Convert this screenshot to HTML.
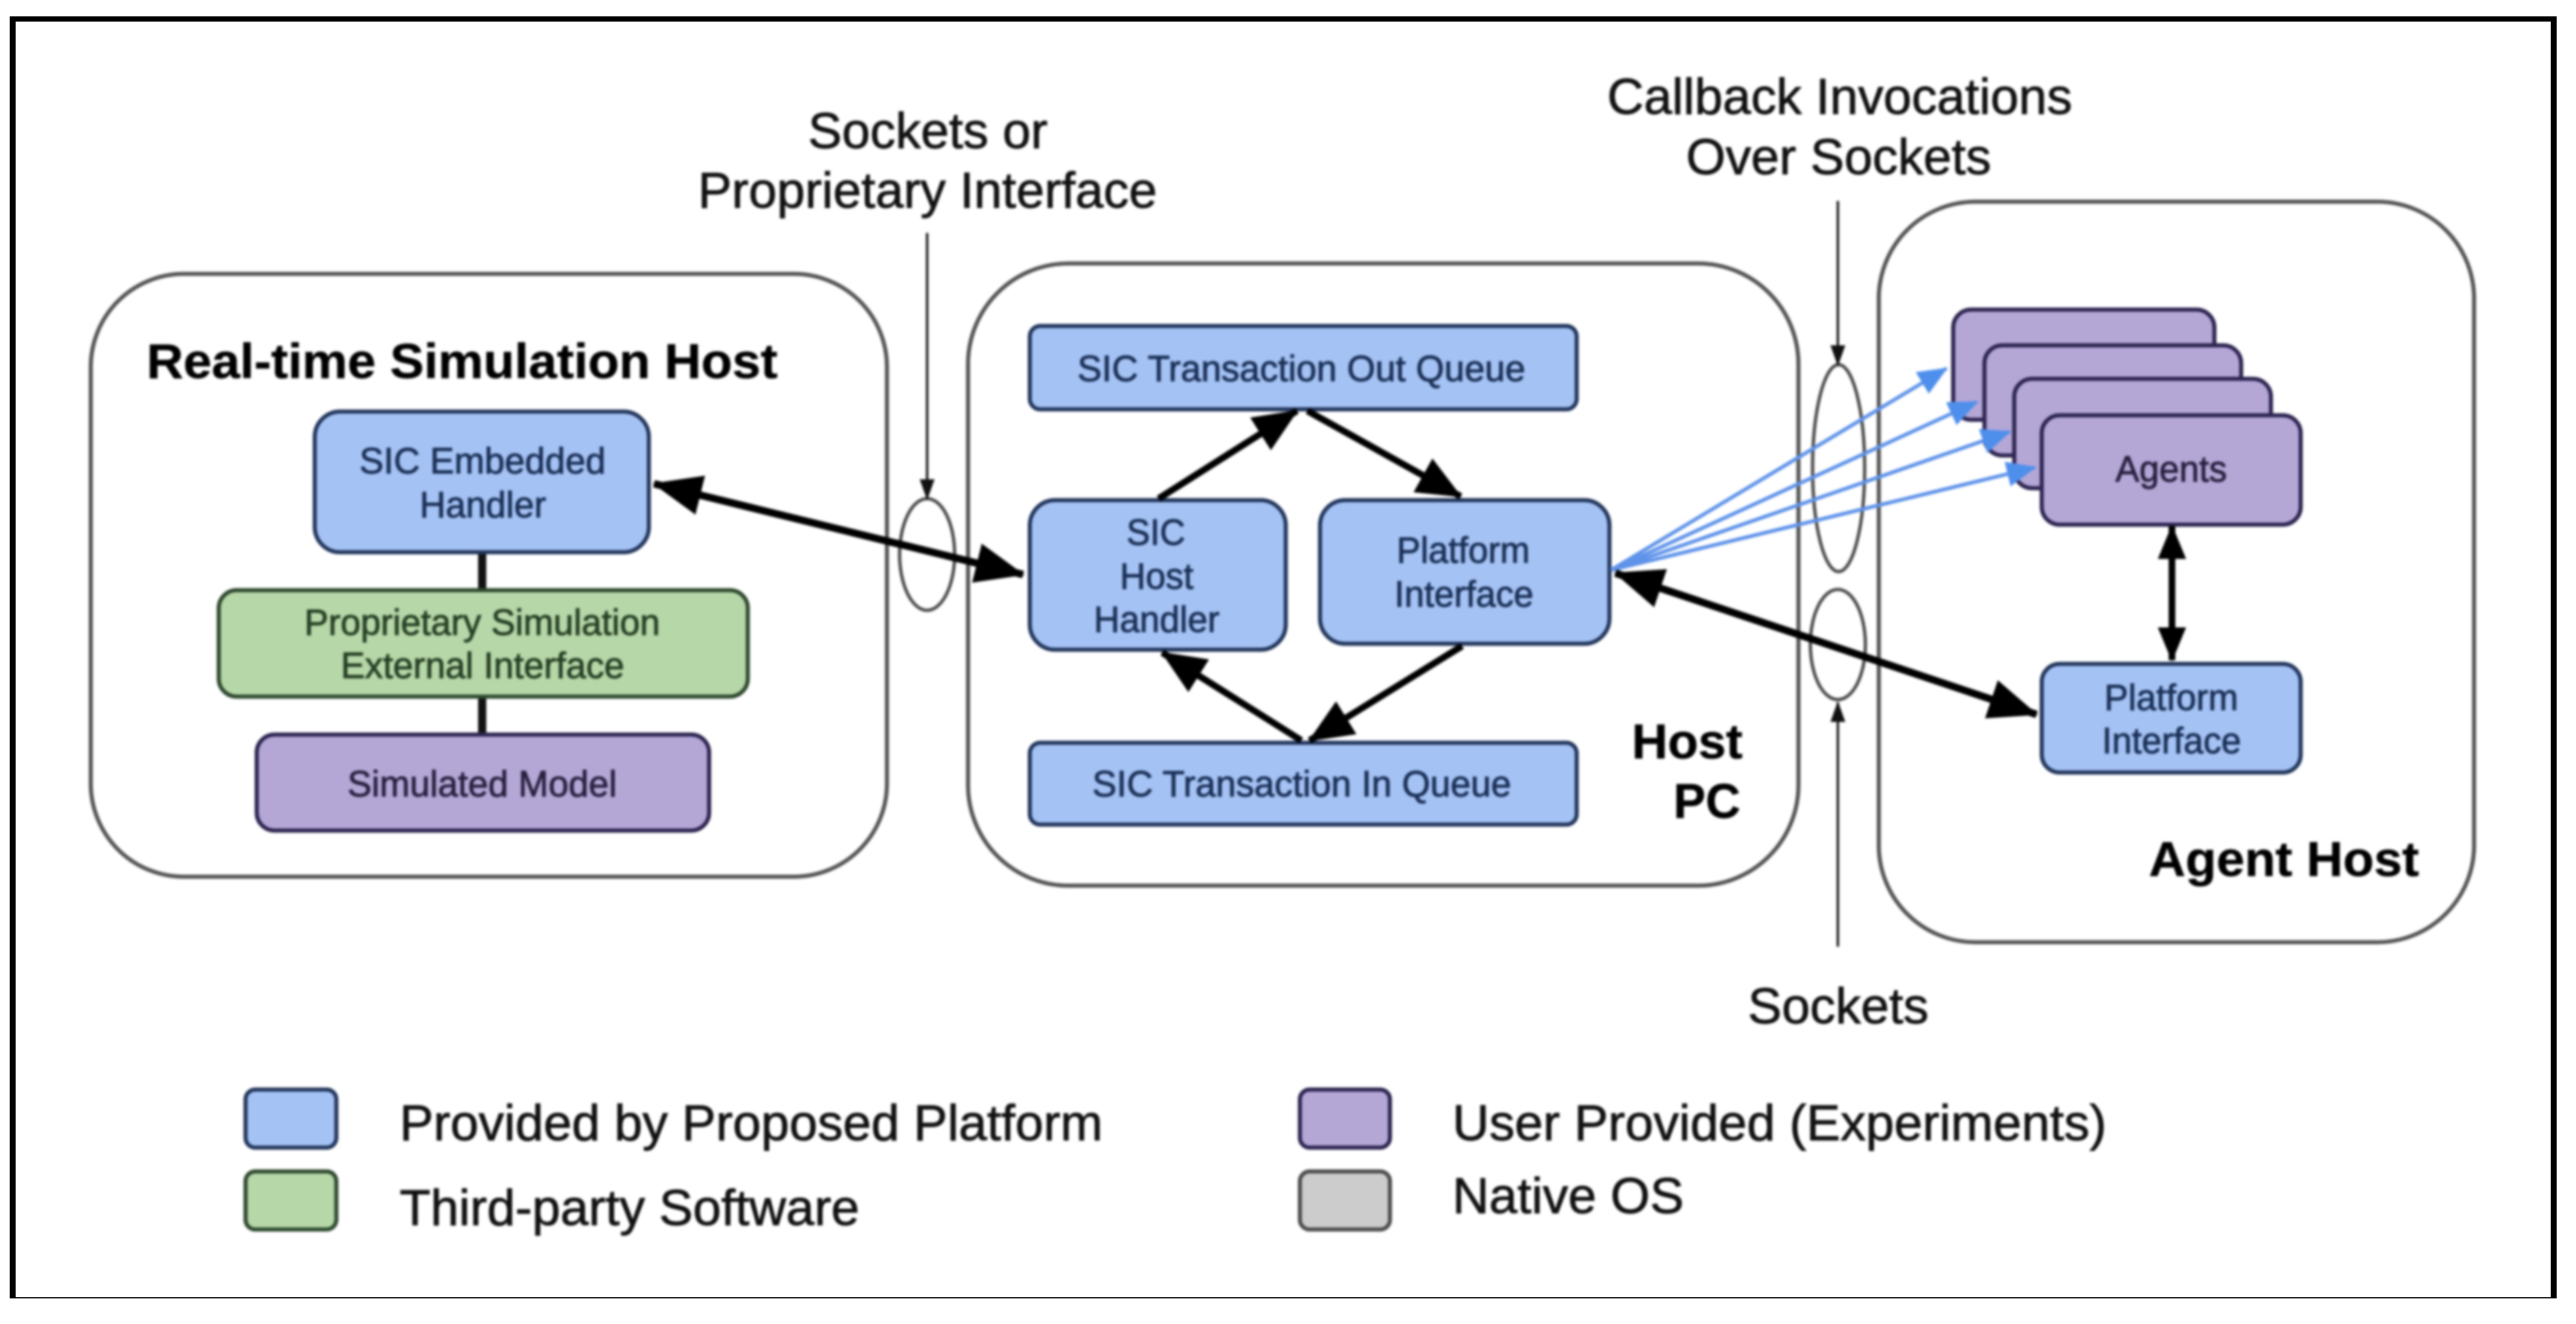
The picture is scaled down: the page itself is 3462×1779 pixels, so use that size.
<!DOCTYPE html>
<html>
<head>
<meta charset="utf-8">
<style>
html,body{margin:0;padding:0;background:#fff;width:3462px;height:1779px;overflow:hidden}
svg{display:block}
.soft{filter:blur(1.5px)}
text{font-family:"Liberation Sans",sans-serif;stroke-width:.9px}
.l{font-size:68px;fill:#111;stroke:#111}
.b{font-size:66px;font-weight:bold;fill:#000;stroke:#000;stroke-width:.5px}
.bl{font-size:49px;fill:#1a2f55;stroke:#1a2f55}
.gr{font-size:49px;fill:#263f24;stroke:#263f24}
.pu{font-size:49px;fill:#28203f;stroke:#28203f}
.hb{fill:none;stroke:#555;stroke-width:5.5}
.blue{fill:#a4c2f4;stroke:#22365c;stroke-width:5.5}
.green{fill:#b6d7a8;stroke:#2f4a2f;stroke-width:5.5}
.purple{fill:#b4a7d6;stroke:#2d2450;stroke-width:5.5}
.gray{fill:#cccccc;stroke:#4d4d4d;stroke-width:5.5}
.el{fill:none;stroke:#4d4d4d;stroke-width:4.5}
.thin{stroke:#222;stroke-width:3.5;fill:none}
.thick{stroke:#000;stroke-width:10;fill:none}
.mid{stroke:#000;stroke-width:9;fill:none}
.bar{stroke:#111;stroke-width:11;fill:none}
.az{stroke:#5f93ea;stroke-width:5;fill:none}
</style>
</head>
<body>
<svg width="3462" height="1779" viewBox="0 0 3462 1779" xmlns="http://www.w3.org/2000/svg">
<defs>
<marker id="hb" markerUnits="userSpaceOnUse" markerWidth="70" markerHeight="60" refX="64" refY="27" orient="auto-start-reverse"><path d="M0,0 L66,27 L0,54 Z" fill="#000"/></marker>
<marker id="hm" markerUnits="userSpaceOnUse" markerWidth="64" markerHeight="60" refX="58" refY="26" orient="auto-start-reverse"><path d="M0,0 L60,26 L0,52 Z" fill="#000"/></marker>
<marker id="hv" markerUnits="userSpaceOnUse" markerWidth="50" markerHeight="40" refX="44" refY="19" orient="auto-start-reverse"><path d="M0,0 L46,19 L0,38 Z" fill="#000"/></marker>
<marker id="ha" markerUnits="userSpaceOnUse" markerWidth="44" markerHeight="38" refX="38" refY="17" orient="auto"><path d="M0,0 L40,17 L0,34 Z" fill="#4f8fec"/></marker>
<marker id="ht" markerUnits="userSpaceOnUse" markerWidth="32" markerHeight="24" refX="26" refY="10" orient="auto"><path d="M0,0 L28,10 L0,20 Z" fill="#111"/></marker>
</defs>

<rect x="0" y="0" width="3462" height="1779" fill="#fff"/>
<rect x="13" y="22" width="8" height="1722" fill="#000"/>
<rect x="3428" y="22" width="8" height="1722" fill="#000"/>
<rect x="13" y="22" width="3423" height="7" fill="#000"/>
<rect x="13" y="1743" width="3423" height="1.5" fill="#000"/>

<g class="soft">
<!-- hosts -->
<rect class="hb" x="122" y="368" width="1070" height="810" rx="125" ry="125"/>
<rect class="hb" x="1301" y="354" width="1116" height="836" rx="135" ry="135"/>
<rect class="hb" x="2525" y="271" width="800" height="995" rx="130" ry="130"/>

<!-- left host -->
<path class="bar" d="M648,742 V793 M648,936 V987"/>
<rect class="blue" x="423" y="553" width="449" height="189" rx="34"/>
<rect class="green" x="294" y="793" width="711" height="143" rx="24"/>
<rect class="purple" x="345" y="987" width="608" height="129" rx="24"/>

<!-- middle host -->
<rect class="blue" x="1384" y="438" width="735" height="112" rx="14"/>
<rect class="blue" x="1384" y="672" width="344" height="201" rx="34"/>
<rect class="blue" x="1774" y="672" width="389" height="193" rx="34"/>
<rect class="blue" x="1384" y="998" width="735" height="110" rx="14"/>

<!-- right host -->
<rect class="purple" x="2625" y="416" width="351" height="148" rx="24"/>
<rect class="purple" x="2667" y="464" width="345" height="148" rx="24"/>
<rect class="purple" x="2707" y="509" width="345" height="147" rx="24"/>
<rect class="purple" x="2744" y="558" width="348" height="147" rx="24"/>
<rect class="blue" x="2744" y="892" width="348" height="146" rx="24"/>

<!-- ellipses -->
<ellipse class="el" cx="1246" cy="745" rx="37" ry="75"/>
<ellipse class="el" cx="2471" cy="629" rx="35" ry="139"/>
<ellipse class="el" cx="2470" cy="866" rx="37" ry="74"/>

<!-- thin pointers -->
<path class="thin" d="M1246,313 V670" marker-end="url(#ht)"/>
<path class="thin" d="M2470,270 V490" marker-end="url(#ht)"/>
<path class="thin" d="M2470,1272 V944" marker-end="url(#ht)"/>

<!-- blue arrows -->
<path class="az" d="M2165,766 L2616,495" marker-end="url(#ha)"/>
<path class="az" d="M2165,766 L2657,540" marker-end="url(#ha)"/>
<path class="az" d="M2165,766 L2701,580" marker-end="url(#ha)"/>
<path class="az" d="M2165,766 L2735,628" marker-end="url(#ha)"/>

<!-- thick arrows -->
<path class="thick" d="M879,650 L1375,772" marker-start="url(#hb)" marker-end="url(#hb)"/>
<path class="thick" d="M2171,770 L2737,960" marker-start="url(#hb)" marker-end="url(#hb)"/>
<path class="mid" d="M2919,707 V887" marker-start="url(#hv)" marker-end="url(#hv)"/>
<path class="mid" d="M1557,670 L1743,552" marker-end="url(#hm)"/>
<path class="mid" d="M1757,552 L1963,667" marker-end="url(#hm)"/>
<path class="mid" d="M1965,868 L1760,995" marker-end="url(#hm)"/>
<path class="mid" d="M1749,995 L1562,877" marker-end="url(#hm)"/>

<!-- outer labels -->
<text class="l" x="1086" y="199" textLength="322" lengthAdjust="spacingAndGlyphs">Sockets or</text>
<text class="l" x="938" y="279" textLength="617" lengthAdjust="spacingAndGlyphs">Proprietary Interface</text>
<text class="l" x="2160" y="153" textLength="625" lengthAdjust="spacingAndGlyphs">Callback Invocations</text>
<text class="l" x="2266" y="234" textLength="410" lengthAdjust="spacingAndGlyphs">Over Sockets</text>
<text class="l" x="2349" y="1375" textLength="243" lengthAdjust="spacingAndGlyphs">Sockets</text>

<!-- bold labels -->
<text class="b" x="197" y="508" textLength="848" lengthAdjust="spacingAndGlyphs">Real-time Simulation Host</text>
<text class="b" x="2193" y="1019" textLength="149" lengthAdjust="spacingAndGlyphs">Host</text>
<text class="b" x="2249" y="1099" textLength="90" lengthAdjust="spacingAndGlyphs">PC</text>
<text class="b" x="2888" y="1177" textLength="363" lengthAdjust="spacingAndGlyphs">Agent Host</text>

<!-- box labels -->
<text class="bl" x="483" y="636" textLength="331" lengthAdjust="spacingAndGlyphs">SIC Embedded</text>
<text class="bl" x="564" y="695" textLength="170" lengthAdjust="spacingAndGlyphs">Handler</text>
<text class="gr" x="409" y="853" textLength="478" lengthAdjust="spacingAndGlyphs">Proprietary Simulation</text>
<text class="gr" x="458" y="911" textLength="381" lengthAdjust="spacingAndGlyphs">External Interface</text>
<text class="pu" x="467" y="1070" textLength="362" lengthAdjust="spacingAndGlyphs">Simulated Model</text>
<text class="bl" x="1448" y="512" textLength="602" lengthAdjust="spacingAndGlyphs">SIC Transaction Out Queue</text>
<text class="bl" x="1514" y="732" textLength="79" lengthAdjust="spacingAndGlyphs">SIC</text>
<text class="bl" x="1505" y="791" textLength="99" lengthAdjust="spacingAndGlyphs">Host</text>
<text class="bl" x="1470" y="849" textLength="169" lengthAdjust="spacingAndGlyphs">Handler</text>
<text class="bl" x="1877" y="756" textLength="179" lengthAdjust="spacingAndGlyphs">Platform</text>
<text class="bl" x="1874" y="815" textLength="187" lengthAdjust="spacingAndGlyphs">Interface</text>
<text class="bl" x="1468" y="1070" textLength="563" lengthAdjust="spacingAndGlyphs">SIC Transaction In Queue</text>
<text class="pu" x="2843" y="647" textLength="150" lengthAdjust="spacingAndGlyphs">Agents</text>
<text class="bl" x="2828" y="954" textLength="180" lengthAdjust="spacingAndGlyphs">Platform</text>
<text class="bl" x="2825" y="1012" textLength="187" lengthAdjust="spacingAndGlyphs">Interface</text>

<!-- legend -->
<rect class="blue" x="330" y="1464" width="122" height="78" rx="13"/>
<rect class="green" x="330" y="1574" width="122" height="78" rx="13"/>
<rect class="purple" x="1747" y="1464" width="121" height="78" rx="13"/>
<rect class="gray" x="1747" y="1574" width="121" height="78" rx="13"/>
<text class="l" x="537" y="1532" textLength="945" lengthAdjust="spacingAndGlyphs">Provided by Proposed Platform</text>
<text class="l" x="537" y="1646" textLength="618" lengthAdjust="spacingAndGlyphs">Third-party Software</text>
<text class="l" x="1952" y="1532" textLength="879" lengthAdjust="spacingAndGlyphs">User Provided (Experiments)</text>
<text class="l" x="1952" y="1630" textLength="311" lengthAdjust="spacingAndGlyphs">Native OS</text>
</g>
</svg>
</body>
</html>
